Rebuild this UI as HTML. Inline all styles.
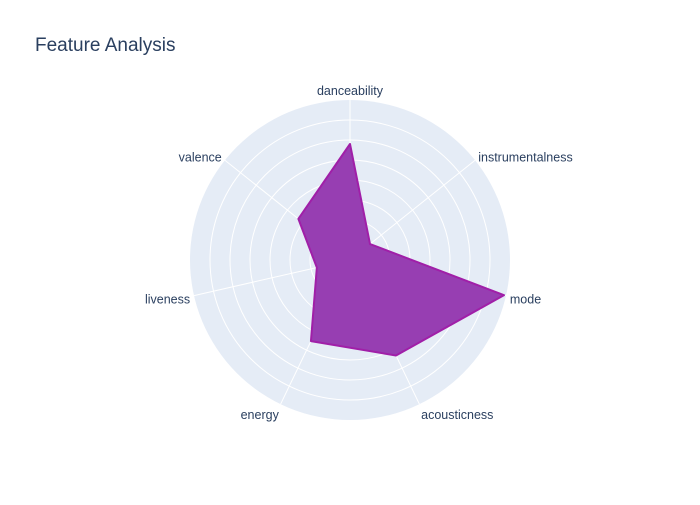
<!DOCTYPE html>
<html><head><meta charset="utf-8"><style>
body{margin:0;background:#fff;font-family:"Liberation Sans",Arial,sans-serif}
</style></head><body>
<svg id="chart" width="700" height="500">
<rect width="700" height="500" fill="#fff"/>
<text x="35" y="51" font-size="19" fill="#2a3f5f">Feature Analysis</text>
<g id="grid"></g><g id="series"></g><g id="labels"></g>
</svg>
<script>
const categories=["danceability","instrumentalness","mode","acousticness","energy","liveness","valence"];
const values=[0.58,0.128,0.79,0.53,0.45,0.17,0.33];
const radialTicks=[0.1,0.2,0.3,0.4,0.5,0.6,0.7,0.8];
const rMax=0.8;
const cx=350,cy=260,R=160,NS="http://www.w3.org/2000/svg";
function rad(v){return v/rMax*R;}
function ang(i){return (90-i*360/categories.length)*Math.PI/180;}
function pt(i,v){const a=ang(i),r=rad(v);return [cx+r*Math.cos(a),cy-r*Math.sin(a)];}
function mk(t,at,p){const e=document.createElementNS(NS,t);for(const k in at)e.setAttribute(k,at[k]);p.appendChild(e);return e;}
const g=document.getElementById('grid');
const bg=mk('circle',{cx:cx,cy:cy,r:R,fill:'#e5ecf6'},g);


radialTicks.forEach(t=>{if(t<rMax){const c=mk('circle',{cx:cx,cy:cy,r:rad(t),fill:'none',stroke:'#fff','stroke-width':1},g);

}});
const lg=document.getElementById('labels');
categories.forEach((c,i)=>{const p=pt(i,rMax);
const l=mk('line',{x1:cx,y1:cy,x2:p[0],y2:p[1],stroke:'#fff','stroke-width':1},g);


const a=ang(i),lx=cx+(R+4)*Math.cos(a),ly=cy-(R+4)*Math.sin(a);
const cs=Math.cos(a);
const anchor=Math.abs(cs)<0.1?'middle':(cs>0?'start':'end');
const sn=Math.sin(a);
const dy=sn>0.9?-1:(sn<-0.5?11:(sn>0.5?4:7));
const tx=mk('text',{x:lx,y:ly+dy,'font-size':12.5,fill:'#2a3f5f','text-anchor':anchor},lg);
tx.textContent=c;

});
const pts=values.map((v,i)=>pt(i,v).join(',')).join(' ');
const poly=mk('polygon',{points:pts,fill:'rgb(148,56,176)','fill-opacity':0.97,stroke:'#a01fa8','stroke-width':2,'stroke-linejoin':'round'},document.getElementById('series'));


</script>
</body></html>
